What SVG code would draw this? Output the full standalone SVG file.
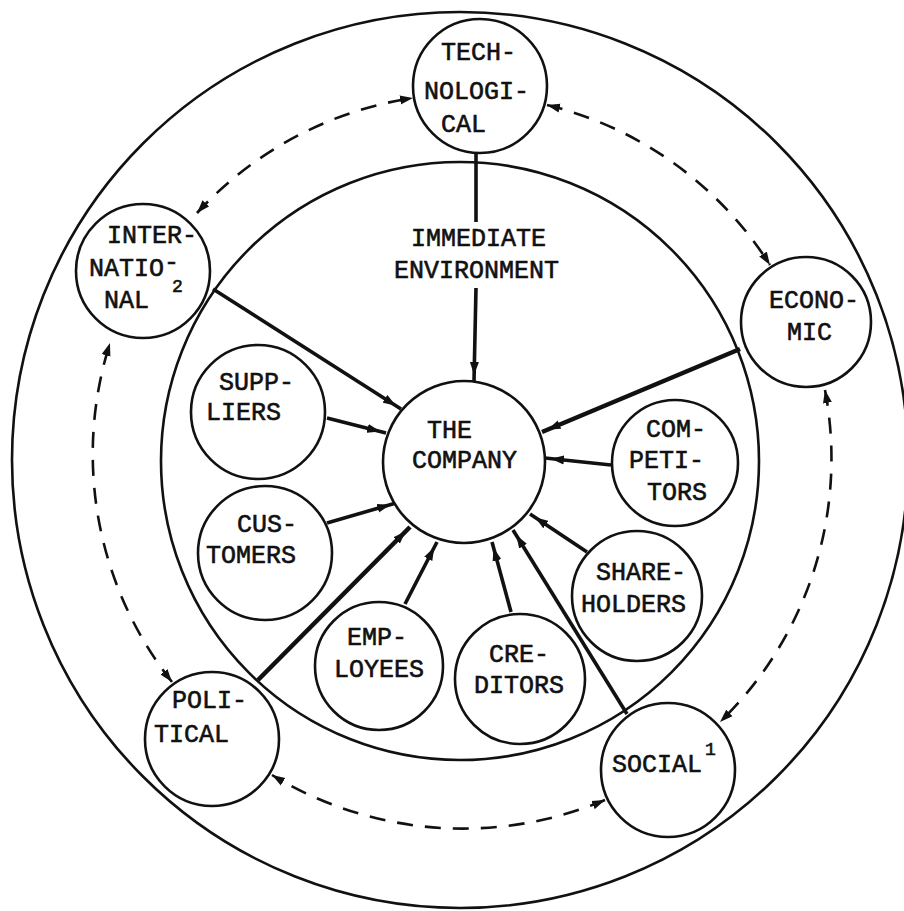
<svg xmlns="http://www.w3.org/2000/svg" width="904" height="911" viewBox="0 0 904 911">
<defs>
<style>
.c{fill:#fff;stroke:#111;stroke-width:2.6}
.ring{fill:none;stroke:#111;stroke-width:2.6}
.t{font-family:"Liberation Mono","Courier New",monospace;font-size:25px;fill:#111;stroke:#111;stroke-width:0.6}
.sup{font-size:18px}
.s{fill:none;stroke:#111;stroke-width:3.6;marker-end:url(#ah)}
.p{fill:none;stroke:#111;stroke-width:3.6}
.w{stroke-width:4.6}
.d{fill:none;stroke:#111;stroke-width:2.6;stroke-dasharray:16 12;marker-start:url(#dh);marker-end:url(#dh)}
</style>
<marker id="ah" viewBox="0 0 20 10" refX="19" refY="5" markerWidth="20" markerHeight="10" markerUnits="userSpaceOnUse" orient="auto"><path d="M0,0.5 L13,5 L0,9.5 z" fill="#111"/></marker>
<marker id="dh" viewBox="0 0 13 10" refX="13" refY="5" markerWidth="13" markerHeight="10" markerUnits="userSpaceOnUse" orient="auto-start-reverse"><path d="M0,0.5 L13,5 L0,9.5 z" fill="#111"/></marker>
</defs>
<rect width="904" height="911" fill="#fff"/>
<g id="rings">
<circle class="ring" cx="460" cy="460" r="448"/>
<circle class="ring" cx="460" cy="461" r="299"/>
</g>
<g id="connectors">
<path class="p" d="M476,153 L476,222"/>
<path class="s" d="M476,288 L474,381"/>
<path class="s" d="M213,289 L401,409"/>
<path class="s w" d="M740,349 L542,432"/>
<path class="s" d="M327,418 L386,433"/>
<path class="s" d="M327,523 L396,503"/>
<path class="s" d="M611,465 L545,458"/>
<path class="s" d="M587,552 L530,514"/>
<path class="s" d="M627,714 L513,530"/>
<path class="s" d="M511,612 L492,542"/>
<path class="s" d="M405,604 L437,542"/>
<path class="s w" d="M258,680 L410,527"/>
<path class="d" d="M197,213 A367,367 0 0 1 413,98"/>
<path class="d" d="M547,105 A367,367 0 0 1 770,265"/>
<path class="d" d="M825,390 A367,367 0 0 1 720,722"/>
<path class="d" d="M605,800 A367,367 0 0 1 272,775"/>
<path class="d" d="M172,682 A367,367 0 0 1 110,343"/>
</g>
<g id="label-immediate">
<text class="t" x="411" y="246">IMMEDIATE</text>
<text class="t" x="394" y="278">ENVIRONMENT</text>
</g>
<g id="node-technological">
<circle class="c" cx="480" cy="86" r="67"/>
<text class="t" x="441" y="60">TECH-</text>
<text class="t" x="424" y="99">NOLOGI-</text>
<text class="t" x="441" y="132">CAL</text>
</g>
<g id="node-international">
<circle class="c" cx="143" cy="271" r="67"/>
<text class="t" x="107" y="243">INTER-</text>
<text class="t" x="89" y="276">NATIO<tspan dy="-6">-</tspan><tspan class="sup" x="172" dy="22">2</tspan></text>
<text class="t" x="104" y="308">NAL</text>
</g>
<g id="node-economic">
<circle class="c" cx="806" cy="322" r="65"/>
<text class="t" x="769" y="308">ECONO-</text>
<text class="t" x="787" y="340">MIC</text>
</g>
<g id="node-political">
<circle class="c" cx="212" cy="739" r="67"/>
<text class="t" x="172" y="708">POLI-</text>
<text class="t" x="154" y="742">TICAL</text>
</g>
<g id="node-social">
<circle class="c" cx="668" cy="770" r="67"/>
<text class="t" x="612" y="772">SOCIAL<tspan class="sup" dx="3" dy="-17">1</tspan></text>
</g>
<g id="node-company">
<circle class="c" cx="464" cy="462" r="81"/>
<text class="t" x="427" y="438">THE</text>
<text class="t" x="412" y="468">COMPANY</text>
</g>
<g id="node-suppliers">
<circle class="c" cx="258" cy="412" r="67"/>
<text class="t" x="219" y="390">SUPP-</text>
<text class="t" x="206" y="420">LIERS</text>
</g>
<g id="node-customers">
<circle class="c" cx="265" cy="553" r="67"/>
<text class="t" x="237" y="532">CUS-</text>
<text class="t" x="206" y="563">TOMERS</text>
</g>
<g id="node-competitors">
<circle class="c" cx="675" cy="463" r="63"/>
<text class="t" x="646" y="437">COM-</text>
<text class="t" x="629" y="468">PETI-</text>
<text class="t" x="647" y="500">TORS</text>
</g>
<g id="node-shareholders">
<circle class="c" cx="637" cy="596" r="65"/>
<text class="t" x="596" y="580">SHARE-</text>
<text class="t" x="581" y="612">HOLDERS</text>
</g>
<g id="node-employees">
<circle class="c" cx="379" cy="666" r="64"/>
<text class="t" x="347" y="645">EMP-</text>
<text class="t" x="334" y="677">LOYEES</text>
</g>
<g id="node-creditors">
<circle class="c" cx="520" cy="679" r="65"/>
<text class="t" x="489" y="662">CRE-</text>
<text class="t" x="474" y="693">DITORS</text>
</g>
</svg>
